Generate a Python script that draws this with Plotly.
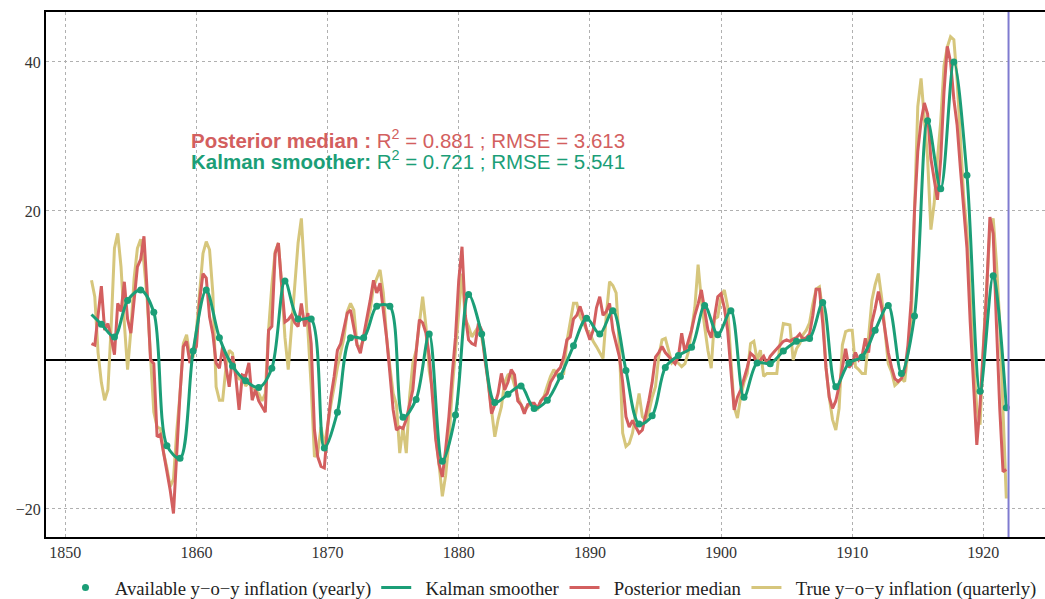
import numpy as np
import plotly.graph_objects as go

# ---- data -------------------------------------------------------------
# yearly y-o-y inflation observations (value reported for Q4 of each year)
obs_years = list(range(1852, 1922))
obs_values = [
    4.8, 3.1, 8.0, 9.4, 6.4, -11.5, -13.2, 1.2, 9.4, 3.0,
    -0.8, -2.8, -3.7, -1.1, 10.6, 5.5, 5.5, -11.8, -7.0, 3.0,
    3.0, 7.2, 7.2, -7.7, -5.3, 3.5, -13.6, -7.4, 8.8, 3.5,
    -5.7, -4.6, -3.5, -6.5, -5.4, -2.2, 1.9, 5.6, 3.5, 6.6,
    -1.4, -8.6, -7.5, -1.0, 0.6, 1.7, 7.3, 3.4, 6.6, -5.0,
    -0.4, -0.5, 1.2, 2.5, 2.9, 7.7, -3.6, -0.4, 0.4, 4.0,
    7.3, -1.8, 5.9, 32.1, 23.0, 40.0, 24.8, -4.2, 11.3, -6.4,
]

# Kalman smoother: starting state followed by the smoothed yearly states
kalman_years = [1852.0] + [y + 0.75 for y in obs_years]
kalman_values = [6.1] + obs_values

# quarterly series, 1852Q1 .. 1921Q4
true_q = [
    10.7, 8.5, 1.0, -3.0,   -5.4, -4.0, 4.5, 15.0,   17.0, 12.5, 5.0, -1.3,
    4.0, 11.0, 15.0, 16.2,  13.0, 8.0, 0.5, -7.0,    -9.0, -9.2, -12.5, -14.5,
    -17.0, -16.0, -9.5, -4.5,  2.2, 3.4, 0.5, 0.5,  4.0, 9.8, 14.3, 15.9,
    14.8, 9.0, -3.6, -5.4,  -5.4, -1.0, 1.3, 0.9,   -2.0, -2.5, -2.0, -3.5,
    -3.0, -3.6, -4.0, -4.5, -5.5, -4.5, 4.0, 10.0,  14.5, 15.7, 10.0, 3.0,
    -1.3, 4.0, 10.0, 15.7,  19.0, 12.0, 4.0, -3.6,  -13.0, -12.5, -9.0, -11.6,
    -8.5, -6.0, -3.6, -1.0, 1.0, 3.0, 6.5, 7.6,     6.7, 2.0, 1.8, 2.7,
    5.0, 6.7, 9.8, 11.0,    12.1, 9.0, 3.0, -0.9,   -4.5, -6.0, -12.5, -9.0,
    -12.5, -5.0, -0.4, 1.3, 5.0, 8.5, 4.5, -1.5,    -4.0, -10.3, -14.0, -18.3,
    -15.5, -11.0, -4.0, 1.5, 5.8, 11.6, 5.5, 4.5,   3.1, 3.8, 4.5, 3.1,
    0.5, -3.1, -7.0, -10.3, -8.0, -6.3, -3.0, -2.0, -1.8, -3.6, -5.0, -6.0,
    -6.7, -6.3, -5.8, -6.0, -6.7, -5.5, -4.9, -3.5, -2.2, -1.3, -2.0, -1.8,
    -1.8, 2.5, 5.0, 7.6,    7.6, 5.8, 5.0, 4.0,     3.6, 2.5, 1.8, 1.0,
    0.2, 6.0, 10.5, 10.0,   9.0, 1.8, -9.8, -11.6,  -11.2, -9.8, -7.2, -4.5,
    -7.6, -8.1, -7.0, -5.0, -3.6, 0.5, 2.7, 2.9,    1.3, -0.4, 0.0, -0.5,
    -0.9, -0.5, 1.0, 4.0,   7.0, 12.8, 8.0, 4.5,    1.3, -1.1, 5.5, 5.8,
    8.5, 9.4, 7.2, 0.0,     -6.3, -7.8, -4.9, -3.0, -1.8, 2.2, 2.5, 0.0,
    1.3, -2.2, -1.8, -1.8,  -1.8, -1.8, 2.2, 4.9,   4.8, 4.7, 0.0, 1.5,
    2.2, 3.4, 4.0, 5.0,     7.5, 9.5, 9.8, 6.5,     -1.0, -5.0, -8.0, -9.4,
    -6.5, 2.0, 3.8, 4.0,    4.0, -0.9, -1.3, -1.8,  -1.8, 3.0, 8.0, 10.1,
    11.6, 8.3, 3.8, -0.5,   -1.6, -3.4, -3.0, -2.5, -2.9, 1.0, 5.0, 20.0,
    34.0, 37.8, 32.0, 27.0, 17.5, 21.0, 27.0, 32.0, 39.5, 42.0, 43.4, 43.0,
    37.5, 29.5, 22.0, 17.2, 7.5, 0.0, -6.5, -8.7,   2.0, 10.0, 17.5, 19.0,
    13.0, 5.0, -7.0, -18.6,
]

posterior_q = [
    2.2, 2.0, 6.0, 9.9,     4.0, 4.9, 3.0, 0.7,     7.6, 6.5, 10.5, 5.5,
    3.6, 8.0, 12.5, 13.5,   16.6, 9.0, 0.0, -0.5,   -10.3, -10.0, -12.5, -15.0,
    -17.5, -20.6, -12.0, -4.5, 1.8, 2.5, -0.4, 1.0, 1.8, 8.1, 11.6, 11.0,
    5.8, 3.5, -0.4, -1.1,   1.8, -1.0, -3.6, 0.5,   -2.2, -6.7, -2.0, -2.2,
    -0.4, -5.4, -4.0, -5.5, -6.3, -7.0, 4.0, 4.5,   14.3, 15.7, 10.0, 5.1,
    5.4, 6.0, 5.0, 4.5,     7.6, 4.5, 6.3, 2.2,     -9.4, -13.0, -14.3, -14.5,
    -9.0, -5.0, -2.2, 1.3,  2.2, 4.5, 6.3, 6.7,     4.5, 2.0, 0.9, 3.1,
    5.4, 8.0, 10.7, 9.0,    10.3, 7.0, 3.0, -1.8,   -6.7, -9.4, -9.0, -9.2,
    -8.0, -6.0, -4.0, 1.0,  5.4, 5.0, 3.6, 0.5,     -5.0, -10.7, -14.0, -15.7,
    -12.0, -7.6, -2.0, 3.0, 10.7, 15.2, 6.0, 2.7,   2.2, 2.0, 4.9, 4.0,
    0.0, -3.0, -7.2, -6.0,  -4.5, -1.8, -4.0, -3.0, -1.3, -2.0, -5.5, -6.0,
    -7.2, -6.0, -5.8, -5.8, -6.5, -5.5, -5.0, -4.5, -3.0, -2.2, -1.5, -1.0,
    0.4, 2.7, 3.1, 5.5,     6.0, 7.2, 5.8, 4.0,     2.7, 4.0, 7.0, 8.5,
    6.0, 6.5, 7.6, 4.0,     2.0, 0.4, -3.0, -7.6,   -9.0, -8.1, -9.0, -9.8,
    -9.4, -7.5, -5.4, -3.0, 0.4, 1.0, 1.8, 1.0,     0.5, 0.0, -0.5, 0.5,
    3.6, 1.0, 2.5, 4.0,     6.0, 7.5, 9.4, 6.5,     4.0, 3.0, 5.5, 8.5,
    8.9, 7.0, 4.0, -2.0,    -6.7, -5.0, -4.0, -2.5, -1.0, 0.9, 0.5, -0.5,
    0.0, 0.5, -0.5, 0.5,    1.0, 1.5, 2.0, 2.5,     2.7, 2.5, 2.8, 3.0,
    3.5, 2.8, 3.0, 3.5,     6.0, 9.5, 9.5, 5.0,     -1.0, -5.0, -6.5, -5.5,
    -3.5, -1.0, 1.5, -1.0,  -0.5, 1.0, 0.0, 0.5,    2.9, 1.0, 5.0, 6.9,
    9.2, 7.0, 4.0, 1.0,     -1.0, -2.5, -2.9, -2.5, -1.6, 2.0, 8.0, 20.0,
    28.0, 32.0, 34.5, 33.0, 27.0, 24.0, 21.5, 27.0, 36.0, 42.1, 40.0, 35.0,
    31.5, 25.7, 20.0, 15.0, 5.0, -4.0, -11.4, -6.0, 2.0, 9.2, 19.2, 17.0,
    4.7, -6.5, -15.0, -14.7,
]

x_ticks = [1850, 1860, 1870, 1880, 1890, 1900, 1910, 1920]
y_ticks = [-20, 20, 40]
sample_end = 1921.92

r2_post, rmse_post = 0.881, 3.613
r2_kal, rmse_kal = 0.721, 5.541

# ---- styling ----------------------------------------------------------
GREEN = "#1b9e77"
RED = "#d35f5f"
KHAKI = "#d6c67c"
PURPLE = "#7f7bd0"
SERIF = "Liberation Serif, DejaVu Serif, serif"
SANS = "Liberation Sans, Arial, sans-serif"
GAP = "\u00a0\u00a0"  # a little air between legend symbol and label

q_years = 1852 + 0.25 * np.arange(len(true_q))
obs_x = [y + 0.75 for y in obs_years]

fig = go.Figure()

fig.add_trace(go.Scatter(
    x=q_years, y=true_q, mode="lines", name=GAP + "True y\u2212o\u2212y inflation (quarterly)",
    line=dict(color=KHAKI, width=3), legendrank=4,
))
fig.add_trace(go.Scatter(
    x=q_years, y=posterior_q, mode="lines", name=GAP + "Posterior median",
    line=dict(color=RED, width=3), legendrank=3,
))
fig.add_trace(go.Scatter(
    x=kalman_years, y=kalman_values, mode="lines", name=GAP + "Kalman smoother",
    line=dict(color=GREEN, width=3, shape="spline", smoothing=0.9), legendrank=2,
))
fig.add_trace(go.Scatter(
    x=obs_x, y=obs_values, mode="markers", name=GAP + "Available y\u2212o\u2212y inflation (yearly)",
    marker=dict(color=GREEN, size=7), legendrank=1,
))

fig.add_shape(type="line", xref="x", yref="paper", x0=sample_end, x1=sample_end,
              y0=0, y1=1, line=dict(color=PURPLE, width=2))

fig.add_annotation(
    x=1859.45, y=29.7, xref="x", yref="y", xanchor="left", yanchor="middle",
    showarrow=False,
    text=f"<b>Posterior median :</b> R<sup>2</sup> = {r2_post:.3f} ; RMSE = {rmse_post:.3f}",
    font=dict(family=SANS, size=20.5, color=RED),
)
fig.add_annotation(
    x=1859.45, y=26.8, xref="x", yref="y", xanchor="left", yanchor="middle",
    showarrow=False,
    text=f"<b>Kalman smoother:</b> R<sup>2</sup> = {r2_kal:.3f} ; RMSE = {rmse_kal:.3f}",
    font=dict(family=SANS, size=20.5, color=GREEN),
)

fig.update_layout(
    width=1045, height=599,
    margin=dict(l=46, r=0, t=12, b=62, autoexpand=False),
    paper_bgcolor="white", plot_bgcolor="white",
    font=dict(family=SERIF, size=16, color="#333333"),
    showlegend=True,
    legend=dict(orientation="h", x=0.508, xanchor="center", y=-0.097, yanchor="middle",
                font=dict(family=SERIF, size=18.67, color="#222222"),
                itemwidth=30, bgcolor="rgba(0,0,0,0)"),
)
fig.update_xaxes(
    range=[1848.53, 1924.70], tickvals=x_ticks, ticktext=[str(t) for t in x_ticks],
    showgrid=True, gridcolor="#b0b0b0", griddash="dot", gridwidth=1,
    showline=True, linecolor="black", linewidth=2, mirror=True,
    zeroline=False, ticks="", tickfont=dict(family=SERIF, size=16, color="#333333"),
)
fig.update_yaxes(
    range=[-23.76, 46.71], tickvals=y_ticks,
    ticktext=["\u221220", "20", "40"],
    showgrid=True, gridcolor="#b0b0b0", griddash="dot", gridwidth=1,
    showline=True, linecolor="black", linewidth=2, mirror=False,
    zeroline=True, zerolinecolor="black", zerolinewidth=2,
    ticks="", tickfont=dict(family=SERIF, size=16, color="#333333"),
)

fig.write_html("out.html")
